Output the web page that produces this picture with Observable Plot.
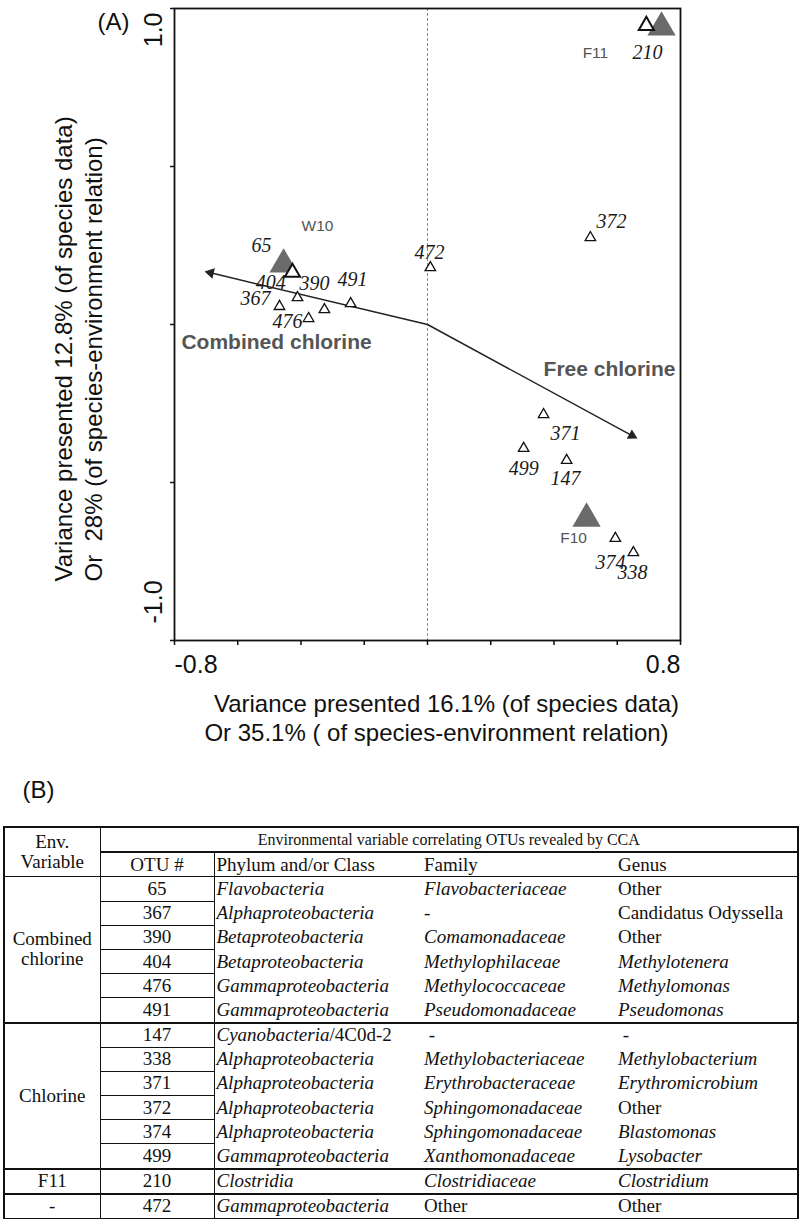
<!DOCTYPE html>
<html>
<head>
<meta charset="utf-8">
<script src="https://cdn.jsdelivr.net/npm/d3@7"></script>
<script src="https://cdn.jsdelivr.net/npm/@observablehq/plot@0.6"></script>
<style>
  html, body { margin: 0; padding: 0; background: #fff; }
  #page { position: relative; width: 800px; height: 1219px; overflow: hidden; }
  #chart svg { display: block; position: absolute; left: 0; top: 0; }
  table.cca {
    position: absolute; left: 3px; top: 826px;
    border-collapse: collapse; table-layout: fixed; width: 794px;
    font-family: "Liberation Serif", "Times New Roman", serif; font-size: 19px; color: #111;
    border: 2px solid #111;
  }
  table.cca td { padding: 0 0 0 2px; height: 23.2px; line-height: 20px; vertical-align: middle; white-space: nowrap; }
  table.cca td.c { text-align: center; padding: 0; }
  table.cca td.small { font-size: 16px; }
  table.cca td.br { border-right: 1.5px solid #111; }
  table.cca td.bb { border-bottom: 1px solid #111; }
  table.cca td.gb { border-bottom: 2px solid #111; }
  table.cca td.env { white-space: pre-line; }
</style>
</head>
<body>
<div id="page">
  <div id="chart"></div>
  <div id="tableB"></div>
</div>
<script>
// ---------- Panel (A) data: CCA biplot ----------
const otuIds        = ["65", "404", "367", "476", "390", "491", "472", "372", "371", "499", "147", "374", "338", "210"];
const otuAxis1      = [-0.427, -0.411, -0.468, -0.376, -0.326, -0.243, 0.009, 0.515, 0.367, 0.304, 0.440, 0.594, 0.651, 0.692];
const otuAxis2      = [0.165, 0.085, 0.057, 0.019, 0.047, 0.066, 0.180, 0.275, -0.285, -0.392, -0.430, -0.677, -0.722, 0.946];
const otuLabelAxis1 = [-0.525, -0.496, -0.544, -0.443, -0.357, -0.237, 0.006, 0.582, 0.436, 0.304, 0.436, 0.579, 0.648, 0.696];
const otuLabelAxis2 = [0.250, 0.133, 0.082, 0.009, 0.130, 0.142, 0.228, 0.326, -0.345, -0.456, -0.487, -0.753, -0.785, 0.861];

const sampleIds        = ["W10", "F10", "F11"];
const sampleAxis1      = [-0.455, 0.503, 0.740];
const sampleAxis2      = [0.190, -0.614, 0.940];
const sampleLabelAxis1 = [-0.348, 0.462, 0.531];
const sampleLabelAxis2 = [0.313, -0.677, 0.858];

const envNames       = ["Combined chlorine", "Free chlorine"];
const envAxis1       = [-0.705, 0.664];
const envAxis2       = [0.168, -0.361];
const envLabelAxis1  = [-0.778, 0.784];
const envLabelAxis2  = [-0.057, -0.142];

const xTickValues = [-0.8, -0.6, -0.4, -0.2, 0, 0.2, 0.4, 0.6, 0.8];
const yTickValues = [-1, -0.5, 0, 0.5, 1];
const xEndValues = [-0.8, 0.8];
const xEndLabels = ["-0.8", "0.8"];
const yEndValues = [1, -1];
const yEndLabels = ["1.0", "-1.0"];
const xTitleLines = ["Variance presented 16.1% (of species data)", "Or 35.1% ( of species-environment relation)"];
const yTitleLines = ["Variance presented 12.8% (of species data)", "Or  28% (of species-environment relation)"];
const panelLabels = ["(A)", "(B)"];

// ---------- Panel (B) data: table ----------
const tableHeaderEnv = "Env.\nVariable";
const tableHeaderTop = "Environmental variable correlating OTUs revealed by CCA";
const tableColumns = ["OTU #", "Phylum and/or Class", "Family", "Genus"];
const tableEnv = ["Combined\nchlorine","Combined\nchlorine","Combined\nchlorine","Combined\nchlorine","Combined\nchlorine","Combined\nchlorine",
                  "Chlorine","Chlorine","Chlorine","Chlorine","Chlorine","Chlorine","F11","-"];
const tableOtu = ["65","367","390","404","476","491","147","338","371","372","374","499","210","472"];
const tablePhylum = ["Flavobacteria","Alphaproteobacteria","Betaproteobacteria","Betaproteobacteria","Gammaproteobacteria","Gammaproteobacteria",
                     "Cyanobacteria/4C0d-2","Alphaproteobacteria","Alphaproteobacteria","Alphaproteobacteria","Alphaproteobacteria","Gammaproteobacteria",
                     "Clostridia","Gammaproteobacteria"];
const tableFamily = ["Flavobacteriaceae","-","Comamonadaceae","Methylophilaceae","Methylococcaceae","Pseudomonadaceae",
                     " -","Methylobacteriaceae","Erythrobacteraceae","Sphingomonadaceae","Sphingomonadaceae","Xanthomonadaceae",
                     "Clostridiaceae","Other"];
const tableGenus = ["Other","Candidatus Odyssella","Other","Methylotenera","Methylomonas","Pseudomonas",
                    " -","Methylobacterium","Erythromicrobium","Other","Blastomonas","Lysobacter",
                    "Clostridium","Other"];

// ---------- build chart ----------
const W = 800, H = 820, mL = 174, mR = 120, mT = 8, mB = 180;
const kx = (W - mL - mR) / 1.6, ky = (H - mT - mB) / 2;

const otus = otuIds.map((id, i) => ({id, x: otuAxis1[i], y: otuAxis2[i], lx: otuLabelAxis1[i], ly: otuLabelAxis2[i]}));
const emphasised = new Set(["65", "210"]);
const samples = sampleIds.map((id, i) => ({id, x: sampleAxis1[i], y: sampleAxis2[i], lx: sampleLabelAxis1[i], ly: sampleLabelAxis2[i]}));
const headR = 4;
const headHalf = Math.sqrt(Math.PI * headR * headR / (3 * Math.sqrt(3)));
const envs = envNames.map((name, i) => {
  const dx = envAxis1[i], dy = envAxis2[i];
  const px = dx * kx, py = dy * ky, len = Math.hypot(px, py);
  const back = 2 * headHalf;
  return {
    name, x: dx, y: dy, lx: envLabelAxis1[i], ly: envLabelAxis2[i],
    hx: dx - (px / len) * back / kx, hy: dy - (py / len) * back / ky,
    rot: Math.atan2(px, py) * 180 / Math.PI
  };
});

const sans = "Liberation Sans, Arial, sans-serif";
const serif = "Liberation Serif, Times New Roman, serif";

const plot = Plot.plot({
  width: W, height: H,
  marginLeft: mL, marginRight: mR, marginTop: mT, marginBottom: mB,
  style: {background: "#fff", color: "#111", overflow: "visible"},
  x: {domain: [-0.8, 0.8], ticks: xTickValues, tickSize: 5, tickFormat: () => "", label: null},
  y: {domain: [-1, 1], ticks: yTickValues, tickSize: 4, tickFormat: () => "", label: null},
  marks: [
    Plot.axisX({ticks: xTickValues, tickSize: 5, tickFormat: () => "", label: null, strokeWidth: 1.5}),
    Plot.axisY({ticks: yTickValues, tickSize: 4, tickFormat: () => "", label: null, strokeWidth: 1.5}),
    Plot.ruleX([0], {stroke: "#8a8a8a", strokeWidth: 1, strokeDasharray: "3,2"}),
    Plot.link(envs, {x1: () => 0, y1: () => 0, x2: "hx", y2: "hy", stroke: "#222", strokeWidth: 1.5}),
    Plot.dot(envs, {x: "hx", y: "hy", symbol: "triangle", r: headR, fill: "#222", stroke: "none", rotate: "rot"}),
    Plot.dot(samples, {x: "x", y: "y", symbol: "triangle", r: 10.5, fill: "#6b6b6b", stroke: "none"}),
    Plot.dot(otus.filter(d => !emphasised.has(d.id)), {x: "x", y: "y", symbol: "triangle", r: 3.9, fill: "#fff", stroke: "#111", strokeWidth: 1.3}),
    Plot.dot(otus.filter(d => emphasised.has(d.id)), {x: "x", y: "y", symbol: "triangle", r: 5.6, fill: "#fff", stroke: "#111", strokeWidth: 2}),
    Plot.text(otus, {x: "lx", y: "ly", text: "id", fontFamily: serif, fontStyle: "italic", fontSize: 20, fill: "#1a1a1a"}),
    Plot.text(samples, {x: "lx", y: "ly", text: "id", fontFamily: sans, fontSize: 15.5, fill: "#555"}),
    Plot.text(envs.slice(0, 1), {x: "lx", y: "ly", text: "name", textAnchor: "start", fontFamily: sans, fontWeight: "bold", fontSize: 21, fill: "#555"}),
    Plot.text(envs.slice(1), {x: "lx", y: "ly", text: "name", textAnchor: "end", fontFamily: sans, fontWeight: "bold", fontSize: 21, fill: "#555"}),
    Plot.frame({stroke: "#111", strokeWidth: 1.8}),
    // axis end labels
    Plot.text([0], {x: () => xEndValues[0], y: () => -1, text: () => xEndLabels[0], textAnchor: "start", dy: 24, fontFamily: sans, fontSize: 25, fill: "#111"}),
    Plot.text([0], {x: () => xEndValues[1], y: () => -1, text: () => xEndLabels[1], textAnchor: "end", dy: 24, fontFamily: sans, fontSize: 25, fill: "#111"}),
    Plot.text([0], {x: () => -0.8, y: () => yEndValues[0], text: () => yEndLabels[0], rotate: -90, textAnchor: "end", dx: -21, dy: 4, fontFamily: sans, fontSize: 25, fill: "#111"}),
    Plot.text([0], {x: () => -0.8, y: () => yEndValues[1], text: () => yEndLabels[1], rotate: -90, textAnchor: "start", dx: -21, dy: -17, fontFamily: sans, fontSize: 25, fill: "#111"}),
    // axis titles
    Plot.text([xTitleLines[0]], {frameAnchor: "bottom", text: d => d, dx: 19, dy: 71, fontFamily: sans, fontSize: 24, fill: "#111"}),
    Plot.text([xTitleLines[1]], {frameAnchor: "bottom", text: d => d, dx: 9, dy: 100, fontFamily: sans, fontSize: 24, fill: "#111"}),
    Plot.text([yTitleLines[0]], {frameAnchor: "left", text: d => d, rotate: -90, textAnchor: "start", dx: -110, dy: 257, fontFamily: sans, fontSize: 24, fill: "#111"}),
    Plot.text([yTitleLines[1]], {frameAnchor: "left", text: d => d, rotate: -90, textAnchor: "start", dx: -80, dy: 257, fontFamily: sans, fontSize: 24, fill: "#111"}),
    // panel labels
    Plot.text([panelLabels[0]], {frameAnchor: "top-left", text: d => d, dx: -77, dy: 4, fontFamily: sans, fontSize: 24, fill: "#111"}),
    Plot.text([panelLabels[1]], {frameAnchor: "bottom-left", text: d => d, dx: -152, dy: 157, fontFamily: sans, fontSize: 24, fill: "#111"})
  ]
});
document.getElementById("chart").appendChild(plot);

// ---------- build table ----------
function esc(s) { return s.replace(/&/g, "&amp;").replace(/</g, "&lt;").replace(/ /g, "&nbsp;"); }
function fmtName(s) {
  const t = s.trim();
  if (t === "-" || t === "Other" || t === "Candidatus Odyssella") return esc(s);
  if (s.includes("/")) { const [a, b] = s.split("/"); return `<i>${esc(a)}</i>/${esc(b)}`; }
  return `<i>${esc(s)}</i>`;
}
let html = `<table class="cca"><colgroup><col style="width:96px"><col style="width:114px"><col style="width:208px"><col style="width:194px"><col style="width:182px"></colgroup>`;
html += `<tr><td rowspan="2" class="c br bb env">${esc(tableHeaderEnv).replace(/\n/g, "<br>")}</td><td colspan="4" class="c gb small">${esc(tableHeaderTop)}</td></tr>`;
html += `<tr><td class="c br bb">${esc(tableColumns[0])}</td><td class="bb">${esc(tableColumns[1])}</td><td class="bb">${esc(tableColumns[2])}</td><td class="bb">${esc(tableColumns[3])}</td></tr>`;
let i = 0;
while (i < tableOtu.length) {
  let j = i;
  while (j + 1 < tableOtu.length && tableEnv[j + 1] === tableEnv[i]) j++;
  for (let k = i; k <= j; k++) {
    const last = k === j;
    const lastRow = k === tableOtu.length - 1;
    const endCls = lastRow ? "" : (last ? "gb" : "");
    html += "<tr>";
    if (k === i) html += `<td rowspan="${j - i + 1}" class="c br ${lastRow ? "" : "gb"} env">${esc(tableEnv[i]).replace(/\n/g, "<br>")}</td>`;
    html += `<td class="c br ${lastRow ? "" : (last ? "gb" : "bb")}">${esc(tableOtu[k])}</td>`;
    html += `<td class="${endCls}">${fmtName(tablePhylum[k])}</td>`;
    html += `<td class="${endCls}">${fmtName(tableFamily[k])}</td>`;
    html += `<td class="${endCls}">${fmtName(tableGenus[k])}</td>`;
    html += "</tr>";
  }
  i = j + 1;
}
html += "</table>";
document.getElementById("tableB").innerHTML = html;
</script>
</body>
</html>
